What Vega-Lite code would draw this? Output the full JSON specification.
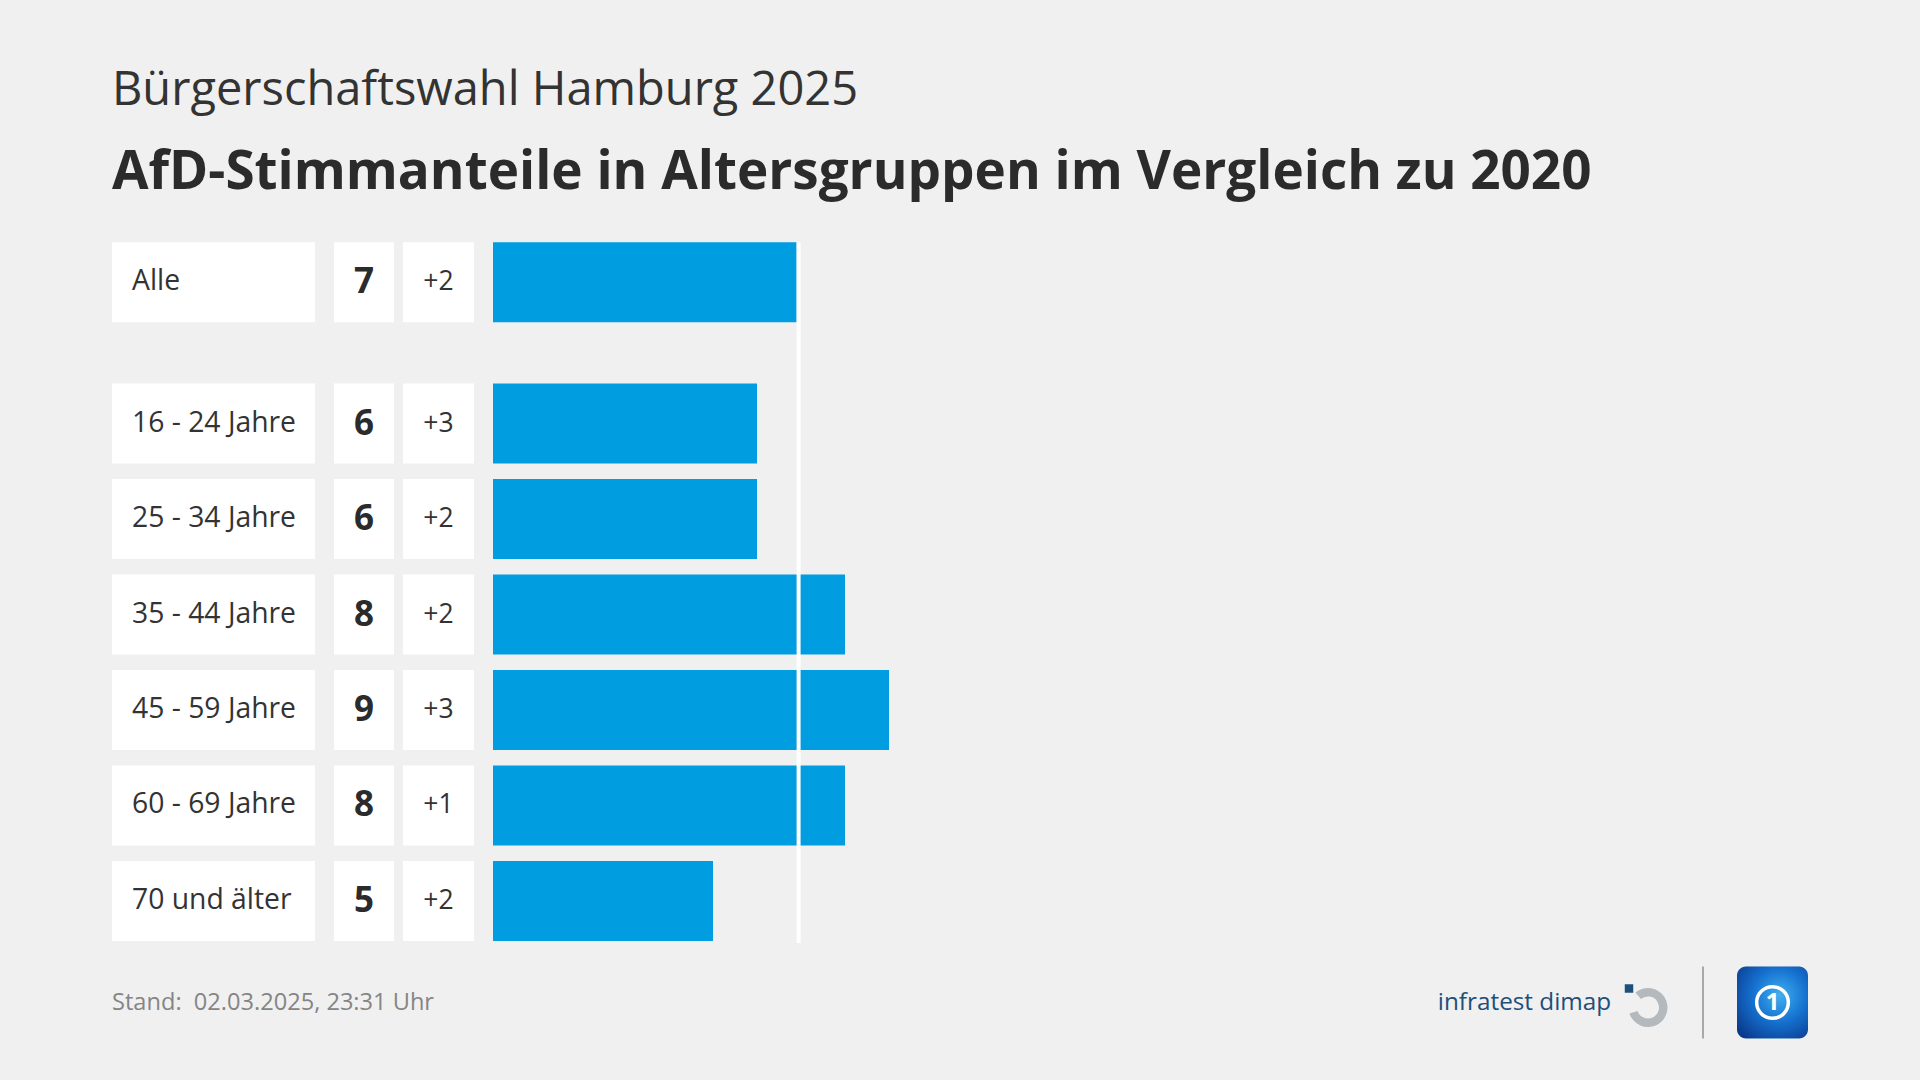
{
  "$schema": "https://vega.github.io/schema/vega-lite/v6.json",
  "background": "#f0f0f0",
  "padding": {"left": 112, "top": 66, "right": 107, "bottom": 43},
  "config": {"view": {"stroke": null}, "font": "Open Sans", "text": {"font": "Open Sans"}},
  "datasets": {
    "afd": [
      {"Gruppe": "Alle", "Anteil": 6.9, "Wert": "7", "Diff": "+2"},
      {"Gruppe": "16 - 24 Jahre", "Anteil": 6, "Wert": "6", "Diff": "+3"},
      {"Gruppe": "25 - 34 Jahre", "Anteil": 6, "Wert": "6", "Diff": "+2"},
      {"Gruppe": "35 - 44 Jahre", "Anteil": 8, "Wert": "8", "Diff": "+2"},
      {"Gruppe": "45 - 59 Jahre", "Anteil": 9, "Wert": "9", "Diff": "+3"},
      {"Gruppe": "60 - 69 Jahre", "Anteil": 8, "Wert": "8", "Diff": "+1"},
      {"Gruppe": "70 und älter", "Anteil": 5, "Wert": "5", "Diff": "+2"}
    ]
  },
  "title": {
    "text": "Bürgerschaftswahl Hamburg 2025",
    "subtitle": "AfD-Stimmanteile in Altersgruppen im Vergleich zu 2020",
    "anchor": "start",
    "frame": "group",
    "font": "Open Sans",
    "fontSize": 47,
    "fontWeight": 400,
    "color": "#333333",
    "subtitleFont": "Open Sans",
    "subtitleFontSize": 53,
    "subtitleFontWeight": 700,
    "subtitleColor": "#2b2b2b",
    "subtitlePadding": 32.5,
    "offset": 40.3
  },
  "spacing": 22.5,
  "vconcat": [
    {
      "spacing": 19,
      "hconcat": [
        {
          "width": 203,
          "height": 653,
          "data": {"name": "afd"},
          "layer": [
            {
              "mark": {"type": "rect", "color": "#ffffff", "yOffset": {"expr": "datum.Gruppe === 'Alle' ? -45.8 : 0"}},
              "encoding": {
                "y": {"field": "Gruppe", "type": "nominal", "sort": null, "axis": null, "scale": {"paddingInner": 0.162, "paddingOuter": 0}}
              }
            },
            {
              "mark": {"type": "text", "align": "left", "baseline": "middle", "fontSize": 28.3, "color": "#333333", "dx": 20, "yOffset": {"expr": "datum.Gruppe === 'Alle' ? -45.8 : 0"}},
              "encoding": {
                "y": {"field": "Gruppe", "type": "nominal", "sort": null, "axis": null, "scale": {"paddingInner": 0.162, "paddingOuter": 0}},
                "x": {"datum": 0, "type": "quantitative", "scale": {"domain": [0, 1]}, "axis": null},
                "text": {"field": "Gruppe"}
              }
            }
          ]
        },
        {
          "spacing": 9,
          "hconcat": [
            {
              "width": 60,
              "height": 653,
              "data": {"name": "afd"},
              "layer": [
                {
                  "mark": {"type": "rect", "color": "#ffffff", "yOffset": {"expr": "datum.Gruppe === 'Alle' ? -45.8 : 0"}},
                  "encoding": {
                    "y": {"field": "Gruppe", "type": "nominal", "sort": null, "axis": null, "scale": {"paddingInner": 0.162, "paddingOuter": 0}}
                  }
                },
                {
                  "mark": {"type": "text", "align": "center", "baseline": "middle", "fontSize": 35, "fontWeight": 700, "color": "#2b2b2b", "yOffset": {"expr": "datum.Gruppe === 'Alle' ? -45.8 : 0"}},
                  "encoding": {
                    "y": {"field": "Gruppe", "type": "nominal", "sort": null, "axis": null, "scale": {"paddingInner": 0.162, "paddingOuter": 0}},
                    "text": {"field": "Wert"}
                  }
                }
              ]
            },
            {
              "width": 71,
              "height": 653,
              "data": {"name": "afd"},
              "layer": [
                {
                  "mark": {"type": "rect", "color": "#ffffff", "yOffset": {"expr": "datum.Gruppe === 'Alle' ? -45.8 : 0"}},
                  "encoding": {
                    "y": {"field": "Gruppe", "type": "nominal", "sort": null, "axis": null, "scale": {"paddingInner": 0.162, "paddingOuter": 0}}
                  }
                },
                {
                  "mark": {"type": "text", "align": "center", "baseline": "middle", "fontSize": 26.5, "color": "#333333", "yOffset": {"expr": "datum.Gruppe === 'Alle' ? -45.8 : 0"}},
                  "encoding": {
                    "y": {"field": "Gruppe", "type": "nominal", "sort": null, "axis": null, "scale": {"paddingInner": 0.162, "paddingOuter": 0}},
                    "text": {"field": "Diff"}
                  }
                }
              ]
            }
          ]
        },
        {
          "width": 1320,
          "height": 653,
          "data": {"name": "afd"},
          "layer": [
            {
              "mark": {"type": "bar", "color": "#009de0", "yOffset": {"expr": "datum.Gruppe === 'Alle' ? -45.8 : 0"}},
              "encoding": {
                "y": {"field": "Gruppe", "type": "nominal", "sort": null, "axis": null, "scale": {"paddingInner": 0.162, "paddingOuter": 0}},
                "x": {"field": "Anteil", "type": "quantitative", "axis": null, "scale": {"domain": [0, 30], "nice": false, "zero": true}}
              }
            },
            {
              "transform": [{"filter": "datum.Gruppe === 'Alle'"}],
              "mark": {"type": "rule", "color": "#ffffff", "strokeWidth": 4, "strokeCap": "square", "xOffset": 2, "yOffset": -43.8},
              "encoding": {
                "x": {"field": "Anteil", "type": "quantitative"}
              }
            }
          ]
        }
      ]
    },
    {
      "spacing": 1003,
      "hconcat": [
        {
          "width": 322,
          "height": 72,
          "data": {"values": [{"Stand": "Stand:\u00a0 02.03.2025, 23:31 Uhr"}]},
          "mark": {"type": "text", "align": "center", "baseline": "middle", "fontSize": 23.6, "color": "#858585"},
          "encoding": {"text": {"field": "Stand"}}
        },
        {
          "spacing": 33,
          "hconcat": [
            {
              "spacing": 12,
              "hconcat": [
                {
                  "width": 175,
                  "height": 72,
                  "data": {"values": [{"Institut": "infratest dimap"}]},
                  "mark": {"type": "text", "align": "center", "baseline": "middle", "fontSize": 24.3, "color": "#1d4f7c"},
                  "encoding": {"text": {"field": "Institut"}}
                },
                {
                  "width": 45,
                  "height": 72,
                  "data": {"values": [{"Logo": "infratest dimap"}]},
                  "layer": [
                    {
                      "mark": {"type": "arc", "color": "#b4b9be", "theta": -0.7, "theta2": 4.4, "radius": 19.5, "radius2": 11, "xOffset": 1.5, "yOffset": 5},
                      "encoding": {}
                    },
                    {
                      "mark": {"type": "point", "shape": "square", "filled": true, "size": 72, "color": "#1d4f7c", "opacity": 1, "xOffset": -17.5, "yOffset": -14},
                      "encoding": {}
                    }
                  ]
                }
              ]
            },
            {
              "width": 2,
              "height": 72,
              "data": {"values": [{"Trenner": 1}]},
              "mark": {"type": "rect", "color": "#a8a8a8"},
              "encoding": {}
            },
            {
              "width": 71,
              "height": 72,
              "data": {"values": [{"Logo": "tagesschau"}]},
              "layer": [
                {
                  "mark": {
                    "type": "rect",
                    "cornerRadius": 9,
                    "color": {
                      "gradient": "radial",
                      "x1": 0.6, "y1": 0.4, "r1": 0,
                      "x2": 0.6, "y2": 0.4, "r2": 0.75,
                      "stops": [
                        {"offset": 0, "color": "#3fb0f0"},
                        {"offset": 0.5, "color": "#1570cf"},
                        {"offset": 1, "color": "#0a3a8c"}
                      ]
                    }
                  },
                  "encoding": {}
                },
                {
                  "mark": {"type": "point", "shape": "circle", "filled": false, "size": 1000, "stroke": "#ffffff", "strokeWidth": 3.5, "opacity": 1},
                  "encoding": {}
                },
                {
                  "mark": {"type": "text", "text": "1", "fontSize": 24, "fontWeight": 700, "color": "#ffffff", "align": "center", "baseline": "middle"},
                  "encoding": {}
                }
              ]
            }
          ]
        }
      ]
    }
  ]
}
